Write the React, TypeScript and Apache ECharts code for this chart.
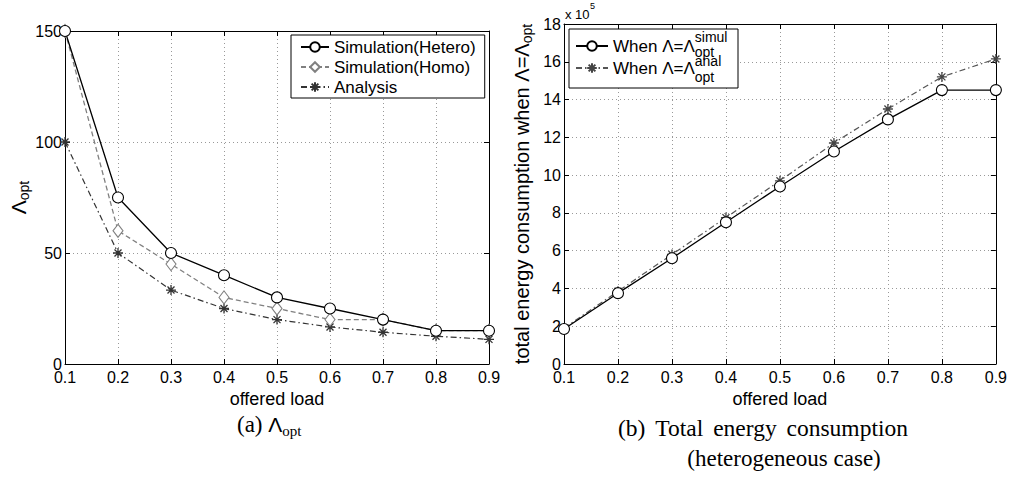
import React, { useEffect, useRef } from "react";
import * as echarts from "echarts";

const loads = ["0.1", "0.2", "0.3", "0.4", "0.5", "0.6", "0.7", "0.8", "0.9"];
const simHetero = [150, 75, 50, 40, 30, 25, 20, 15, 15];
const simHomo = [150, 60, 45, 30, 25, 20, 20, 15, 15];
const analysis = [100, 50, 33.3, 25, 20, 16.7, 14.3, 12.5, 11.1];
// total energy consumption, in units of 10^5
const energySimul = [1.85, 3.75, 5.6, 7.5, 9.4, 11.25, 12.95, 14.5, 14.5];
const energyAnal = [1.9, 3.85, 5.8, 7.75, 9.7, 11.7, 13.5, 15.2, 16.15];

const SANS = "Liberation Sans";
const SERIF = "Liberation Serif";
const STAR = "path://M5,0L5,10M0,5L10,5M1.5,1.5L8.5,8.5M8.5,1.5L1.5,8.5";
const CIRCLE = "path://M10,5A5,5,0,1,1,0,5A5,5,0,1,1,10,5Z";
const DIAMOND = "path://M5,0L10,6.5L5,13L0,6.5Z";

function measure(text: string, font: string): number {
  const c = document.createElement("canvas").getContext("2d");
  if (!c) return text.length * 9;
  c.font = font;
  return c.measureText(text).width;
}

export default function App() {
  const ref = useRef<HTMLDivElement>(null);
  useEffect(() => {
    document.body.style.margin = "0";
    if (!ref.current) return;
    const chart = echarts.init(ref.current, null, { renderer: "svg" });

    const legText = "When Λ=Λ";
    const legW = measure(legText, `17px "${SANS}"`);
    const legTextX = 569 + 6 + 32 + 5;
    const supX = legTextX + legW + 1;
    const spW = Math.max(10, 119 - legW);

    const tickStyle = { show: true, inside: true, length: 5, lineStyle: { color: "#000", width: 1 } };
    const axisLine = { show: true, onZero: false, lineStyle: { color: "#000", width: 1 } };
    const gridLine = { show: true, lineStyle: { color: "#999", width: 1, type: [1, 3] as any } };
    const label = { color: "#000", fontFamily: SANS, fontSize: 16 };

    const xBottom = (gi: number) => ({
      type: "category", gridIndex: gi, data: loads, boundaryGap: false, position: "bottom",
      axisLine, axisTick: { ...tickStyle, interval: 0 },
      axisLabel: { ...label, interval: 0, margin: 5 },
      splitLine: { ...gridLine, interval: 0 },
      name: "offered load", nameLocation: "middle", nameGap: 19,
      nameTextStyle: { color: "#000", fontFamily: SANS, fontSize: 18 },
    });
    const xTop = (gi: number) => ({
      type: "category", gridIndex: gi, data: loads, boundaryGap: false, position: "top",
      axisLine, axisTick: { ...tickStyle, interval: 0 }, axisLabel: { show: false }, splitLine: { show: false },
    });

    const option: any = {
      animation: false,
      backgroundColor: "#fff",
      grid: [
        { left: 65, right: 521, top: 31, bottom: 117 },
        { left: 564, right: 12, top: 24, bottom: 117 },
      ],
      xAxis: [xBottom(0), xTop(0), xBottom(1), xTop(1)],
      yAxis: [
        {
          type: "value", gridIndex: 0, min: 0, max: 150, interval: 50, position: "left",
          axisLine, axisTick: tickStyle, axisLabel: { ...label, margin: 3 }, splitLine: gridLine,
          name: "{a|Λ}{b|opt}", nameLocation: "middle", nameGap: 32, nameRotate: 90,
          nameTextStyle: {
            color: "#000",
            rich: {
              a: { fontFamily: SANS, fontSize: 21, lineHeight: 26, color: "#000" },
              b: { fontFamily: SANS, fontSize: 14, lineHeight: 14, verticalAlign: "bottom", color: "#000" },
            },
          },
        },
        {
          type: "value", gridIndex: 0, min: 0, max: 150, interval: 50, position: "right",
          axisLine, axisTick: tickStyle, axisLabel: { show: false }, splitLine: { show: false },
        },
        {
          type: "value", gridIndex: 1, min: 0, max: 18, interval: 2, position: "left",
          axisLine, axisTick: tickStyle, axisLabel: { ...label, margin: 3 }, splitLine: gridLine,
          name: "{a|total energy consumption when Λ=Λ}{b|opt}", nameLocation: "middle", nameGap: 30, nameRotate: 90,
          nameTextStyle: {
            color: "#000",
            rich: {
              a: { fontFamily: SANS, fontSize: 20, lineHeight: 24, color: "#000" },
              b: { fontFamily: SANS, fontSize: 14, lineHeight: 14, verticalAlign: "bottom", color: "#000" },
            },
          },
        },
        {
          type: "value", gridIndex: 1, min: 0, max: 18, interval: 2, position: "right",
          axisLine, axisTick: tickStyle, axisLabel: { show: false }, splitLine: { show: false },
        },
      ],
      legend: [
        {
          left: 291, top: 35, orient: "vertical", selectedMode: false,
          padding: [2.5, 9, 1.5, 9], itemWidth: 28, itemHeight: 12, itemGap: 1,
          borderColor: "#000", borderWidth: 1, backgroundColor: "#fff",
          textStyle: { fontFamily: SANS, fontSize: 17, lineHeight: 19, color: "#000" },
          data: ["Simulation(Hetero)", "Simulation(Homo)", "Analysis"],
        },
        {
          left: 569, top: 29, orient: "vertical", selectedMode: false,
          padding: [6, 6, 9, 6], itemWidth: 32, itemHeight: 12, itemGap: 0,
          borderColor: "#000", borderWidth: 1, backgroundColor: "#fff",
          textStyle: {
            fontFamily: SANS, fontSize: 17, lineHeight: 22, color: "#000",
            rich: {
              a: { fontFamily: SANS, fontSize: 17, lineHeight: 22, color: "#000" },
              sp: { width: spW, lineHeight: 22 },
            },
          },
          formatter: () => `{a|${legText}}{sp|}`,
          data: ["When Λ=Λ_opt^simul", "When Λ=Λ_opt^anal"],
        },
      ],
      graphic: [
        { type: "text", left: 565, top: 8, z: 100, style: { text: "x 10", font: `13px "${SANS}"`, fill: "#000" } },
        { type: "text", left: 590, top: 1, z: 100, style: { text: "5", font: `9px "${SANS}"`, fill: "#000" } },
        { type: "text", left: supX, top: 30, z: 100, style: { text: "simul", font: `14px "${SANS}"`, fill: "#000" } },
        { type: "text", left: supX, top: 45, z: 100, style: { text: "opt", font: `14px "${SANS}"`, fill: "#000" } },
        { type: "text", left: supX, top: 54, z: 100, style: { text: "anal", font: `14px "${SANS}"`, fill: "#000" } },
        { type: "text", left: supX, top: 70, z: 100, style: { text: "opt", font: `14px "${SANS}"`, fill: "#000" } },
        {
          type: "text", left: 237, top: 413, z: 100,
          style: {
            text: "{a|(a) }{L|Λ}{b|opt}",
            rich: {
              a: { fontFamily: SERIF, fontSize: 23, lineHeight: 28, fill: "#000" },
              L: { fontFamily: SANS, fontSize: 21, lineHeight: 28, fill: "#000" },
              b: { fontFamily: SERIF, fontSize: 15, lineHeight: 15, verticalAlign: "bottom", fill: "#000" },
            },
          },
        },
        {
          type: "text", x: 763, y: 428, z: 100,
          style: {
            text: "{w|(b) }{w|Total }{w|energy }{l|consumption}",
            align: "center", verticalAlign: "middle",
            rich: {
              w: { fontFamily: SERIF, fontSize: 23.5, lineHeight: 28, fill: "#000", padding: [0, 4, 0, 0] },
              l: { fontFamily: SERIF, fontSize: 23.5, lineHeight: 28, fill: "#000" },
            },
          },
        },
        {
          type: "text", x: 784, y: 458, z: 100,
          style: { text: "(heterogeneous case)", font: `23px "${SERIF}"`, fill: "#000", align: "center", verticalAlign: "middle" },
        },
      ],
      series: [
        {
          name: "Simulation(Hetero)", type: "line", xAxisIndex: 0, yAxisIndex: 0, data: simHetero,
          symbol: CIRCLE, symbolSize: 11,
          itemStyle: { color: "#fff", borderColor: "#000", borderWidth: 1.1 },
          lineStyle: { color: "#000", width: 1.3, type: "solid" }, z: 5,
        },
        {
          name: "Simulation(Homo)", type: "line", xAxisIndex: 0, yAxisIndex: 0, data: simHomo,
          symbol: DIAMOND, symbolSize: [10, 13],
          itemStyle: { color: "#fff", borderColor: "#808080", borderWidth: 1.1 },
          lineStyle: { color: "#808080", width: 1.3, type: [5, 3] }, z: 4,
        },
        {
          name: "Analysis", type: "line", xAxisIndex: 0, yAxisIndex: 0, data: analysis,
          symbol: STAR, symbolSize: 10,
          itemStyle: { color: "#333", borderColor: "#333", borderWidth: 1.3 },
          lineStyle: { color: "#333", width: 1.2, type: [6, 3, 1.5, 3] }, z: 3,
        },
        {
          name: "When Λ=Λ_opt^simul", type: "line", xAxisIndex: 2, yAxisIndex: 2, data: energySimul,
          symbol: CIRCLE, symbolSize: 11,
          itemStyle: { color: "#fff", borderColor: "#000", borderWidth: 1.1 },
          lineStyle: { color: "#000", width: 1.3, type: "solid" }, z: 5,
        },
        {
          name: "When Λ=Λ_opt^anal", type: "line", xAxisIndex: 2, yAxisIndex: 2, data: energyAnal,
          symbol: STAR, symbolSize: 10,
          itemStyle: { color: "#444", borderColor: "#444", borderWidth: 1.3 },
          lineStyle: { color: "#555", width: 1.2, type: [6, 3, 1.5, 3] }, z: 4,
        },
      ],
    };
    chart.setOption(option);
    return () => chart.dispose();
  }, []);
  return <div ref={ref} style={{ width: 1010, height: 481 }} />;
}
